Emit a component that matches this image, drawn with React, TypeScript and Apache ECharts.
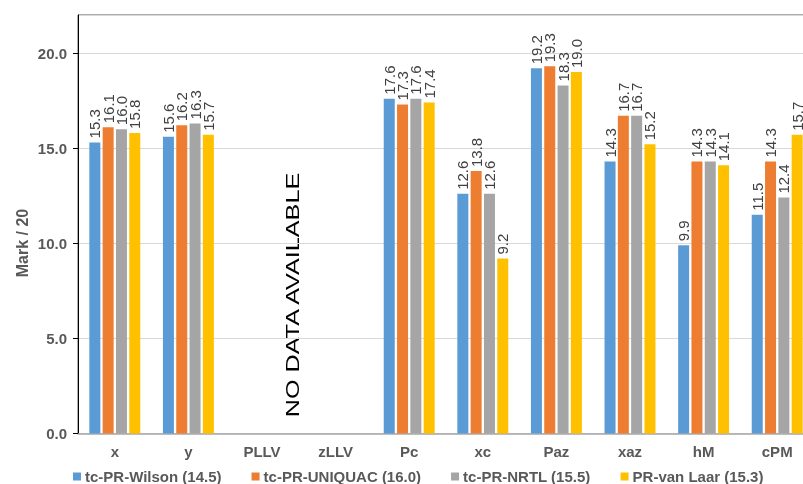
import React, { useEffect, useRef } from "react";
import * as echarts from "echarts";

const categories = ["x", "y", "PLLV", "zLLV", "Pc", "xc", "Paz", "xaz", "hM", "cPM"];
const seriesNames = [
  "tc-PR-Wilson (14.5)",
  "tc-PR-UNIQUAC (16.0)",
  "tc-PR-NRTL (15.5)",
  "PR-van Laar (15.3)",
];
const wilson = [15.3, 15.6, null, null, 17.6, 12.6, 19.2, 14.3, 9.9, 11.5];
const uniquac = [16.1, 16.2, null, null, 17.3, 13.8, 19.3, 16.7, 14.3, 14.3];
const nrtl = [16.0, 16.3, null, null, 17.6, 12.6, 18.3, 16.7, 14.3, 12.4];
const vanLaar = [15.8, 15.7, null, null, 17.4, 9.2, 19.0, 15.2, 14.1, 15.7];
const colors = ["#5B9BD5", "#ED7D31", "#A5A5A5", "#FFC000"];
const yTicks = [0, 5, 10, 15, 20];

export default function App() {
  const ref = useRef<HTMLDivElement>(null);
  useEffect(() => {
    if (!ref.current) return;
    const chart = echarts.init(ref.current, null, { renderer: "svg" });
    const allData = [wilson, uniquac, nrtl, vanLaar];
    const font = "Liberation Sans, Arial, sans-serif";
    chart.setOption({
      animation: false,
      textStyle: { fontFamily: font },
      color: colors,
      grid: {
        left: 78,
        top: 15,
        width: 736,
        height: 418.5,
        outerBoundsMode: "none",
        show: true,
        borderColor: "#595959",
        borderWidth: 1,
        backgroundColor: "transparent",
      },
      legend: {
        left: 73,
        top: 469,
        padding: 0,
        itemWidth: 8,
        itemHeight: 8,
        itemGap: 30,
        icon: "rect",
        textStyle: { color: "#595959", fontSize: 15, fontWeight: "bold", fontFamily: font, padding: [0, 0, 0, -1] },
        data: seriesNames,
      },
      xAxis: {
        type: "category",
        data: categories,
        axisLine: { lineStyle: { color: "#A6A6A6", width: 1.5 } },
        axisTick: { show: false },
        axisLabel: { color: "#595959", fontSize: 15, fontWeight: "bold", margin: 10, fontFamily: font },
      },
      yAxis: {
        type: "value",
        min: 0,
        max: 22,
        interval: 5,
        axisLine: { show: true, lineStyle: { color: "#000000", width: 1 } },
        axisTick: { show: true, length: 5, lineStyle: { color: "#000000" } },
        splitLine: { lineStyle: { color: "#D9D9D9", width: 1 } },
        axisLabel: {
          color: "#595959",
          fontSize: 15,
          fontWeight: "bold",
          margin: 11,
          showMaxLabel: false,
          fontFamily: font,
          formatter: (v: number) => (yTicks.indexOf(v) >= 0 ? v.toFixed(1) : ""),
        },
      },
      graphic: [
        {
          type: "text",
          x: 22,
          y: 243,
          rotation: Math.PI / 2,
          style: {
            text: "Mark / 20",
            fill: "#595959",
            font: `bold 16px ${font}`,
            align: "center",
            verticalAlign: "middle",
          },
        },
        {
          type: "text",
          x: 293,
          y: 295,
          rotation: Math.PI / 2,
          scaleX: 1.4,
          style: {
            text: "NO DATA AVAILABLE",
            fill: "#000000",
            font: `18px ${font}`,
            align: "center",
            verticalAlign: "middle",
          },
        },
      ],
      series: seriesNames.map((name, i) => ({
        name,
        type: "bar",
        data: allData[i],
        barWidth: 11,
        barGap: "21%",
        itemStyle: { color: colors[i] },
        label: {
          show: true,
          position: "top",
          rotate: 90,
          align: "left",
          verticalAlign: "middle",
          distance: 4,
          color: "#404040",
          fontSize: 15,
          fontFamily: font,
          formatter: (p: any) => (p.value == null ? "" : Number(p.value).toFixed(1)),
        },
      })),
    });
    return () => chart.dispose();
  }, []);
  return (
    <div
      ref={ref}
      style={{ position: "fixed", left: 0, top: 0, width: 803, height: 484 }}
    />
  );
}
